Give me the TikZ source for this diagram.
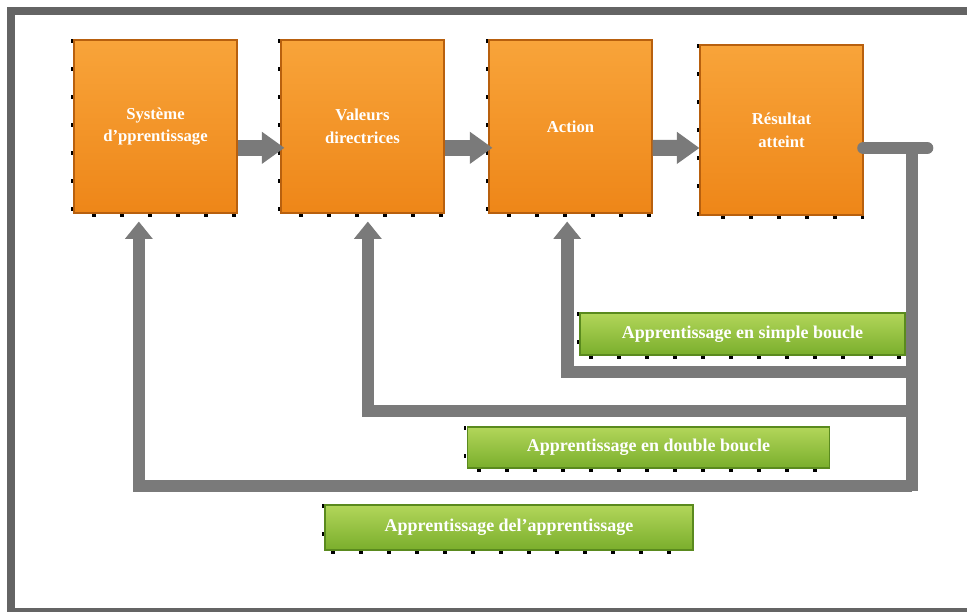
\documentclass[tikz,border=0pt]{standalone}
\usepackage{fontspec}
\setmainfont{Liberation Serif}
\usetikzlibrary{arrows.meta}
\definecolor{frameC}{HTML}{646464}
\definecolor{lineC}{HTML}{7A7A7A}
\definecolor{orT}{HTML}{F8A43A}
\definecolor{orB}{HTML}{EE8618}
\definecolor{orD}{HTML}{B8600E}
\definecolor{grT}{HTML}{B2D65A}
\definecolor{grB}{HTML}{7AAE2C}
\definecolor{grD}{HTML}{5A8A1E}
\tikzset{
  orbox/.style={rectangle, top color=orT, bottom color=orB, draw=orD, line width=0.8pt,
    minimum width=122.25pt, minimum height=129.75pt, text=white, align=center,
    font=\bfseries\fontsize{12.5}{17}\selectfont},
  grbox/.style={rectangle, top color=grT, bottom color=grB, draw=grD, line width=0.8pt,
    text=white, align=center, font=\bfseries\fontsize{13.5}{16}\selectfont},
  dashshadow/.style={draw=black, line width=1.6pt, dash pattern=on 3pt off 18pt},
  blockarrow/.style={draw=lineC, line width=12pt, -{Triangle[width=23pt,length=17pt]}},
  fbline/.style={draw=lineC, line width=9.5pt, line join=miter},
  fbarrow/.style={fbline, -{Triangle[width=20pt,length=13pt]}},
}
\begin{document}
\begin{tikzpicture}[x=0.75pt,y=-0.75pt]
\useasboundingbox (0,0) rectangle (967,611);
\clip (0,0) rectangle (967,611);
\fill[white] (0,0) rectangle (967,611);
% frame
\draw[frameC, line width=6pt] (10.5,10.5) rectangle (990,612);

% orange boxes
\node[orbox] (b1) at (155.5,126.5) {Système\\d'pprentissage};
\node[orbox] (b2) at (362.5,126.5) {Valeurs\\directrices};
\node[orbox] (b3) at (570.5,126.5) {Action};
\node[orbox, minimum height=127.5pt] (b4) at (781.5,130) {Résultat\\atteint};

% green labels
\node[grbox, minimum width=243.75pt, minimum height=31.5pt] (g1) at (742.5,334) {Apprentissage en simple boucle};
\node[grbox, minimum width=272pt, minimum height=30.75pt] (g2) at (648.5,447.5) {Apprentissage en double boucle};
\node[grbox, minimum width=276pt, minimum height=33.75pt] (g3) at (509,527.5) {Apprentissage del'apprentissage};

% dashed shadow edges
\foreach \n in {b1,b2,b3,b4,g1,g2,g3}{
  \draw[dashshadow] ([xshift=-1.2pt]\n.north west) -- ([xshift=-1.2pt,yshift=-1.5pt]\n.south west) -- ([yshift=-1.5pt]\n.south east);
}

% block arrows between boxes
\draw[blockarrow] ([yshift=-16pt]b1.east) -- ([yshift=-16pt,xshift=3pt]b2.west);
\draw[blockarrow] ([yshift=-16pt]b2.east) -- ([yshift=-16pt,xshift=3pt]b3.west);
\draw[blockarrow] ([yshift=-16pt]b3.east) -- ([yshift=-13.5pt]b4.west);

% feedback from result
\coordinate (rEnd) at (927,148);
\coordinate (rCorner) at (912,148);
\coordinate (s1) at (912,372);
\coordinate (s2) at (912,411);
\coordinate (s3) at (912,486);
\draw[fbline, line cap=round] ([yshift=-13.5pt]b4.east) -- (rEnd);
\draw[fbline] (rCorner) -- (912,491);

% loops
\draw[fbarrow] (s1) -| ([xshift=-2.5pt,yshift=-6pt]b3.south);
\draw[fbarrow] (s2) -| ([xshift=4pt,yshift=-6pt]b2.south);
\draw[fbarrow] (s3) -| ([xshift=-12.5pt,yshift=-6pt]b1.south);
\end{tikzpicture}
\end{document}
